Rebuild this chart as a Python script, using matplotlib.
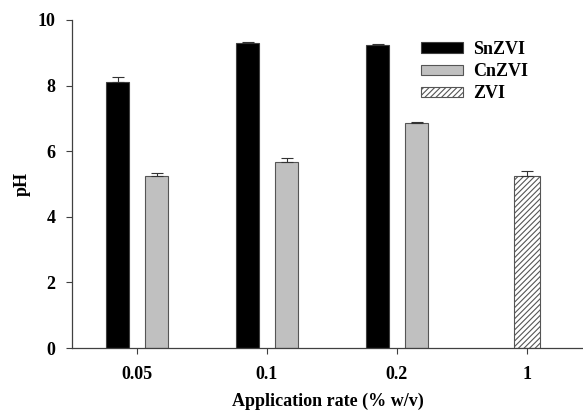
import numpy as np
import matplotlib.pyplot as plt

rates = ["0.05", "0.1", "0.2", "1"]
snzvi = [8.11, 9.30, 9.25]
snzvi_err = [0.15, 0.04, 0.03]
cnzvi = [5.24, 5.68, 6.85]
cnzvi_err = [0.10, 0.12, 0.05]
zvi = [5.25]
zvi_err = [0.15]

plt.rcParams['font.family'] = 'Liberation Serif'
plt.rcParams['font.weight'] = 'bold'
plt.rcParams['hatch.linewidth'] = 0.8

fig = plt.figure(figsize=(5.83, 4.11), dpi=100)
ax = fig.add_axes([72 / 583, 1 - 348 / 411, (583 - 72) / 583, (348 - 20) / 411])

x = np.arange(len(rates))
w = 0.18
off = 0.15
err_kw = {'ecolor': '#333333', 'elinewidth': 0.8, 'capthick': 0.8}

def upper(e):
    return [np.zeros(len(e)), e]

ax.bar(x[:3] - off, snzvi, w, color='black', edgecolor='#404040', linewidth=0.8,
       yerr=upper(snzvi_err), capsize=4, error_kw=err_kw, label='SnZVI')
ax.bar(x[:3] + off, cnzvi, w, color='#c0c0c0', edgecolor='#555555', linewidth=0.8,
       yerr=upper(cnzvi_err), capsize=4, error_kw=err_kw, label='CnZVI')
ax.bar(x[3:], zvi, w * 1.1, color='white', edgecolor='#555555', linewidth=0.8,
       hatch='//////', yerr=upper(zvi_err), capsize=4, error_kw=err_kw, label='ZVI')

ax.set_xlim(-0.5, (583 - 72) / 130 - 0.5)
ax.set_ylim(0, 10)
ax.set_yticks([0, 2, 4, 6, 8, 10])
ax.set_xticks(x)
ax.set_xticklabels(rates)
ax.spines['top'].set_visible(False)
ax.spines['right'].set_visible(False)
for s in ['left', 'bottom']:
    ax.spines[s].set_color('#404040')
    ax.spines[s].set_linewidth(0.9)
ax.tick_params(axis='both', labelsize=13, length=4, color='#404040', width=0.8)
ax.tick_params(axis='x', pad=9)
ax.tick_params(axis='y', pad=8)

ax.set_xlabel('Application rate (% w/v)', fontsize=13, fontweight='bold')
ax.set_ylabel('pH', fontsize=13, fontweight='bold')
ax.xaxis.set_label_coords(0.5, -0.137)
ax.yaxis.set_label_coords(-0.08, 0.5)

leg = ax.legend(loc='upper left', bbox_to_anchor=(0.683, 0.935), frameon=False,
                fontsize=13, handlelength=2.35, handleheight=0.55,
                labelspacing=0.28, handletextpad=0.55, borderpad=0,
                borderaxespad=0)

fig.savefig('out.png', dpi=100)
